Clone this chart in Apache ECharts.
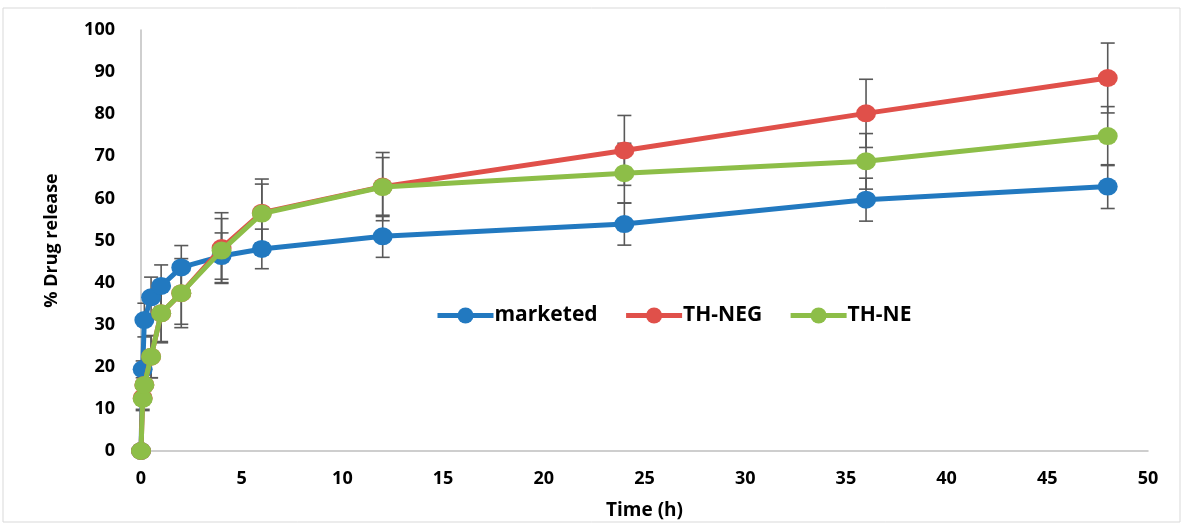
<!DOCTYPE html>
<html>
<head>
<meta charset="utf-8">
<script src="https://cdn.jsdelivr.net/npm/echarts@6/dist/echarts.min.js"></script>
<style>html,body{margin:0;padding:0;background:#fff}#c{width:1184px;height:525px}</style>
</head>
<body>
<div id="c"></div>
<script>
var times = [0, 0.083, 0.167, 0.5, 1, 2, 4, 6, 12, 24, 36, 48];
var marketed = [0, 19.4, 31.1, 36.5, 39.2, 43.6, 46.3, 48.0, 51.0, 53.9, 59.7, 62.8];
var marketedErr = [0, 2, 4, 4.8, 5, 5.2, 5.5, 4.7, 5, 5, 5.1, 5.2];
var thNeg = [0, 12.6, 15.7, 22.4, 32.7, 37.5, 48.2, 56.6, 62.8, 71.4, 80.2, 88.6];
var thNegErr = [0, 3, 4, 5, 7, 8.2, 8.4, 8, 8.1, 8.3, 8.1, 8.3];
var thNe = [0, 12.4, 15.7, 22.4, 32.7, 37.5, 47.6, 56.4, 62.7, 66.0, 68.8, 74.8];
var thNeErr = [0, 2.5, 4, 5, 6.7, 7.4, 7.6, 7, 7, 7.1, 6.6, 7];
var xTicks = [0, 5, 10, 15, 20, 25, 30, 35, 40, 45, 50];
var yTicks = [0, 10, 20, 30, 40, 50, 60, 70, 80, 90, 100];

var colors = {marketed: '#2279C0', neg: '#E0504A', ne: '#8DBE48'};
var font = '"Open Sans", "Liberation Sans", sans-serif';

function pairs(vals) { return times.map(function (t, i) { return [t, vals[i]]; }); }
function errData(vals, errs) {
  return times.map(function (t, i) { return [t, vals[i] - errs[i], vals[i] + errs[i]]; });
}
function errSeries(vals, errs) {
  return {
    type: 'custom', z: 1, silent: true, legendHoverLink: false,
    data: errData(vals, errs),
    renderItem: function (params, api) {
      var x = api.value(0), lo = api.value(1), hi = api.value(2);
      if (hi - lo <= 0) return null;
      var pLo = api.coord([x, lo]), pHi = api.coord([x, hi]);
      var w = 7;
      var st = {stroke: '#595959', lineWidth: 1.6};
      return {
        type: 'group', children: [
          {type: 'line', shape: {x1: pLo[0], y1: pLo[1], x2: pHi[0], y2: pHi[1]}, style: st},
          {type: 'line', shape: {x1: pLo[0] - w, y1: pLo[1], x2: pLo[0] + w, y2: pLo[1]}, style: st},
          {type: 'line', shape: {x1: pHi[0] - w, y1: pHi[1], x2: pHi[0] + w, y2: pHi[1]}, style: st}
        ]
      };
    }
  };
}
function lineSeries(name, vals, color, z) {
  return {
    name: name, type: 'line', data: pairs(vals), z: z,
    symbol: 'circle', symbolSize: [20, 18], showAllSymbol: true,
    lineStyle: {color: color, width: 5},
    itemStyle: {color: color},
    emphasis: {disabled: true}
  };
}

var chart = echarts.init(document.getElementById('c'));
chart.setOption({
  animation: false,
  graphic: [{type: 'rect', shape: {x: 3, y: 8, width: 1177, height: 514}, style: {fill: 'none', stroke: '#d9d9d9', lineWidth: 1}, z: -10}],
  grid: {left: 141, right: 36, top: 30, bottom: 74},
  legend: {
    data: ['marketed', 'TH-NEG', 'TH-NE'],
    top: 300, left: 430, itemGap: 26, itemWidth: 56, itemHeight: 20,
    lineStyle: {width: 5},
    textStyle: {fontFamily: font, fontWeight: 'bold', fontSize: 21, color: '#000', padding: [0, 0, 0, -4]}
  },
  xAxis: {
    type: 'value', min: 0, max: 50, interval: 5,
    name: 'Time (h)', nameLocation: 'middle', nameGap: 50,
    nameTextStyle: {fontFamily: font, fontWeight: 'bold', fontSize: 19, color: '#000'},
    axisLine: {show: true, onZero: false, lineStyle: {color: '#bfbfbf', width: 1.5}},
    axisTick: {show: false}, splitLine: {show: false},
    axisLabel: {margin: 19, fontFamily: font, fontWeight: 'bold', fontSize: 18, color: '#000',
      formatter: function (v) { return xTicks.indexOf(v) >= 0 ? String(v) : ''; }}
  },
  yAxis: {
    type: 'value', min: 0, max: 100, interval: 10,
    name: '% Drug release', nameLocation: 'middle', nameGap: 80, nameRotate: 90,
    nameTextStyle: {fontFamily: font, fontWeight: 'bold', fontSize: 18, color: '#000'},
    axisLine: {show: true, lineStyle: {color: '#bfbfbf', width: 1.5}},
    axisTick: {show: false}, splitLine: {show: false},
    axisLabel: {margin: 26, fontFamily: font, fontWeight: 'bold', fontSize: 18, color: '#000',
      formatter: function (v) { return yTicks.indexOf(v) >= 0 ? String(v) : ''; }}
  },
  series: [
    errSeries(marketed, marketedErr),
    errSeries(thNeg, thNegErr),
    errSeries(thNe, thNeErr),
    lineSeries('marketed', marketed, colors.marketed, 2),
    lineSeries('TH-NEG', thNeg, colors.neg, 3),
    lineSeries('TH-NE', thNe, colors.ne, 4)
  ]
});
</script>
</body>
</html>
